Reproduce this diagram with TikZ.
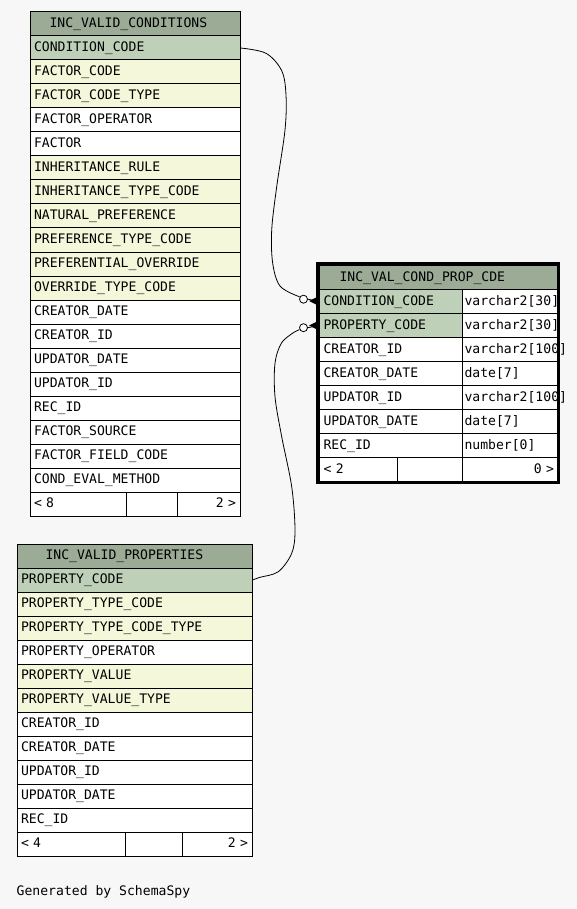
\documentclass[tikz,border=0pt]{standalone}
\usepackage{fontspec}
\newfontfamily\cellmono{DejaVu Sans Mono}
\definecolor{bgc}{HTML}{F7F7F7}
\definecolor{headc}{HTML}{9BAB96}
\definecolor{keyc}{HTML}{BED1B8}
\definecolor{idxc}{HTML}{F4F7DA}
\definecolor{plainc}{HTML}{FFFFFF}
\tikzset{
  cell/.style={draw=black, line width=1pt, anchor=north west, minimum height=24pt,
    inner ysep=0pt, inner xsep=4pt, align=left, text height=9.5pt, text depth=2pt,
    font=\cellmono\fontsize{13.1}{15}\selectfont},
  rcell/.style={cell, align=right},
  conn/.style={draw=black, line width=0.8pt},
  optc/.style={circle, draw=black, line width=0.8pt, fill=white, minimum size=8pt, inner sep=0pt},
}
\begin{document}
\begin{tikzpicture}[x=1pt,y=-1pt]
\fill[bgc] (0,0) rectangle (577,909);
\useasboundingbox (0,0) rectangle (577,909);

% ---------- INC_VALID_CONDITIONS ----------
\node[cell, fill=headc, text width=202pt] (tah) at (29.5,11.5) {\hspace*{15.5pt}INC\_VALID\_CONDITIONS};
\foreach \t/\c [count=\i] in {
  CONDITION\_CODE/keyc, FACTOR\_CODE/idxc, FACTOR\_CODE\_TYPE/idxc, FACTOR\_OPERATOR/plainc,
  FACTOR/plainc, INHERITANCE\_RULE/idxc, INHERITANCE\_TYPE\_CODE/idxc, NATURAL\_PREFERENCE/idxc,
  PREFERENCE\_TYPE\_CODE/idxc, PREFERENTIAL\_OVERRIDE/idxc, OVERRIDE\_TYPE\_CODE/idxc,
  CREATOR\_DATE/plainc, CREATOR\_ID/plainc, UPDATOR\_DATE/plainc, UPDATOR\_ID/plainc,
  REC\_ID/plainc, FACTOR\_SOURCE/plainc, FACTOR\_FIELD\_CODE/plainc, COND\_EVAL\_METHOD/plainc}
{
  \node[cell, fill=\c, text width=202pt] (ta\i) at (29.5,{35.5+24*(\i-1)}) {\t};
}
\node[cell, fill=white, text width=88pt] (taf1) at (29.5,491.5) {< 8};
\node[cell, fill=white, text width=43pt] (taf2) at (125.5,491.5) {};
\node[rcell, fill=white, text width=55pt] (taf3) at (176.5,491.5) {2 >};

% ---------- INC_VALID_PROPERTIES ----------
\node[cell, fill=headc, text width=227pt] (tbh) at (16.5,543.5) {\hspace*{24.5pt}INC\_VALID\_PROPERTIES};
\foreach \t/\c [count=\i] in {
  PROPERTY\_CODE/keyc, PROPERTY\_TYPE\_CODE/idxc, PROPERTY\_TYPE\_CODE\_TYPE/idxc,
  PROPERTY\_OPERATOR/plainc, PROPERTY\_VALUE/idxc, PROPERTY\_VALUE\_TYPE/idxc,
  CREATOR\_ID/plainc, CREATOR\_DATE/plainc, UPDATOR\_ID/plainc, UPDATOR\_DATE/plainc, REC\_ID/plainc}
{
  \node[cell, fill=\c, text width=227pt] (tb\i) at (16.5,{567.5+24*(\i-1)}) {\t};
}
\node[cell, fill=white, text width=100pt] (tbf1) at (16.5,831.5) {< 4};
\node[cell, fill=white, text width=49pt] (tbf2) at (124.5,831.5) {};
\node[rcell, fill=white, text width=62pt] (tbf3) at (181.5,831.5) {2 >};

% ---------- INC_VAL_COND_PROP_CDE ----------
\node[cell, fill=headc, text width=230.5pt] (tch) at (319,265) {\hspace*{16pt}INC\_VAL\_COND\_PROP\_CDE};
\foreach \t/\ty/\c [count=\i] in {
  CONDITION\_CODE/{varchar2[30]}/keyc, PROPERTY\_CODE/{varchar2[30]}/keyc,
  CREATOR\_ID/{varchar2[100]}/plainc, CREATOR\_DATE/{date[7]}/plainc,
  UPDATOR\_ID/{varchar2[100]}/plainc, UPDATOR\_DATE/{date[7]}/plainc, REC\_ID/{number[0]}/plainc}
{
  \node[cell, fill=\c, text width=135pt] (tc\i) at (319,{289+24*(\i-1)}) {\t};
  \node[cell, fill=white, inner xsep=2pt, text width=91.5pt] (tct\i) at (462,{289+24*(\i-1)}) {\ty};
}
\node[cell, fill=white, text width=70pt] (tcf1) at (319,457) {< 2};
\node[cell, fill=white, text width=57pt] (tcf2) at (397,457) {};
\node[rcell, fill=white, text width=87.5pt] (tcf3) at (462,457) {0 >};
\draw[line width=3pt] (317.5,263.5) rectangle (558.5,482.5);

% ---------- connectors ----------
\node[optc] (o1) at (303.5,299.2) {};
\node[optc] (o2) at (303.5,327.7) {};
\draw[conn] plot[smooth, tension=0.55] coordinates {(ta1.east) (266,53.3) (281.7,70.7) (286,95) (285,130) (276.7,186.7) (271.7,230) (272.7,263.3) (280,286) (298.3,296.3)} -- (o1);
\draw[conn] plot[smooth, tension=0.55] coordinates {(tb1.east) (260,577.3) (278.3,571.7) (291.7,553.3) (295,530) (291.7,486.7) (281.7,436.7) (275,396.7) (275,363.3) (281.7,342.7) (295,331.7)} -- (o2);
\draw[conn] (o1.east) -- (tc1.west);
\draw[conn] (o2.east) -- (tc2.west);
\fill (309,301) -- (317,297) -- (317,305) -- cycle;
\fill (309,325.5) -- (317,321.5) -- (317,329.5) -- cycle;

% ---------- footer text ----------
\node[anchor=base west, inner sep=0pt, font=\cellmono\fontsize{13.1}{15}\selectfont] (gen) at (16.5,895) {Generated by SchemaSpy};
\end{tikzpicture}
\end{document}
